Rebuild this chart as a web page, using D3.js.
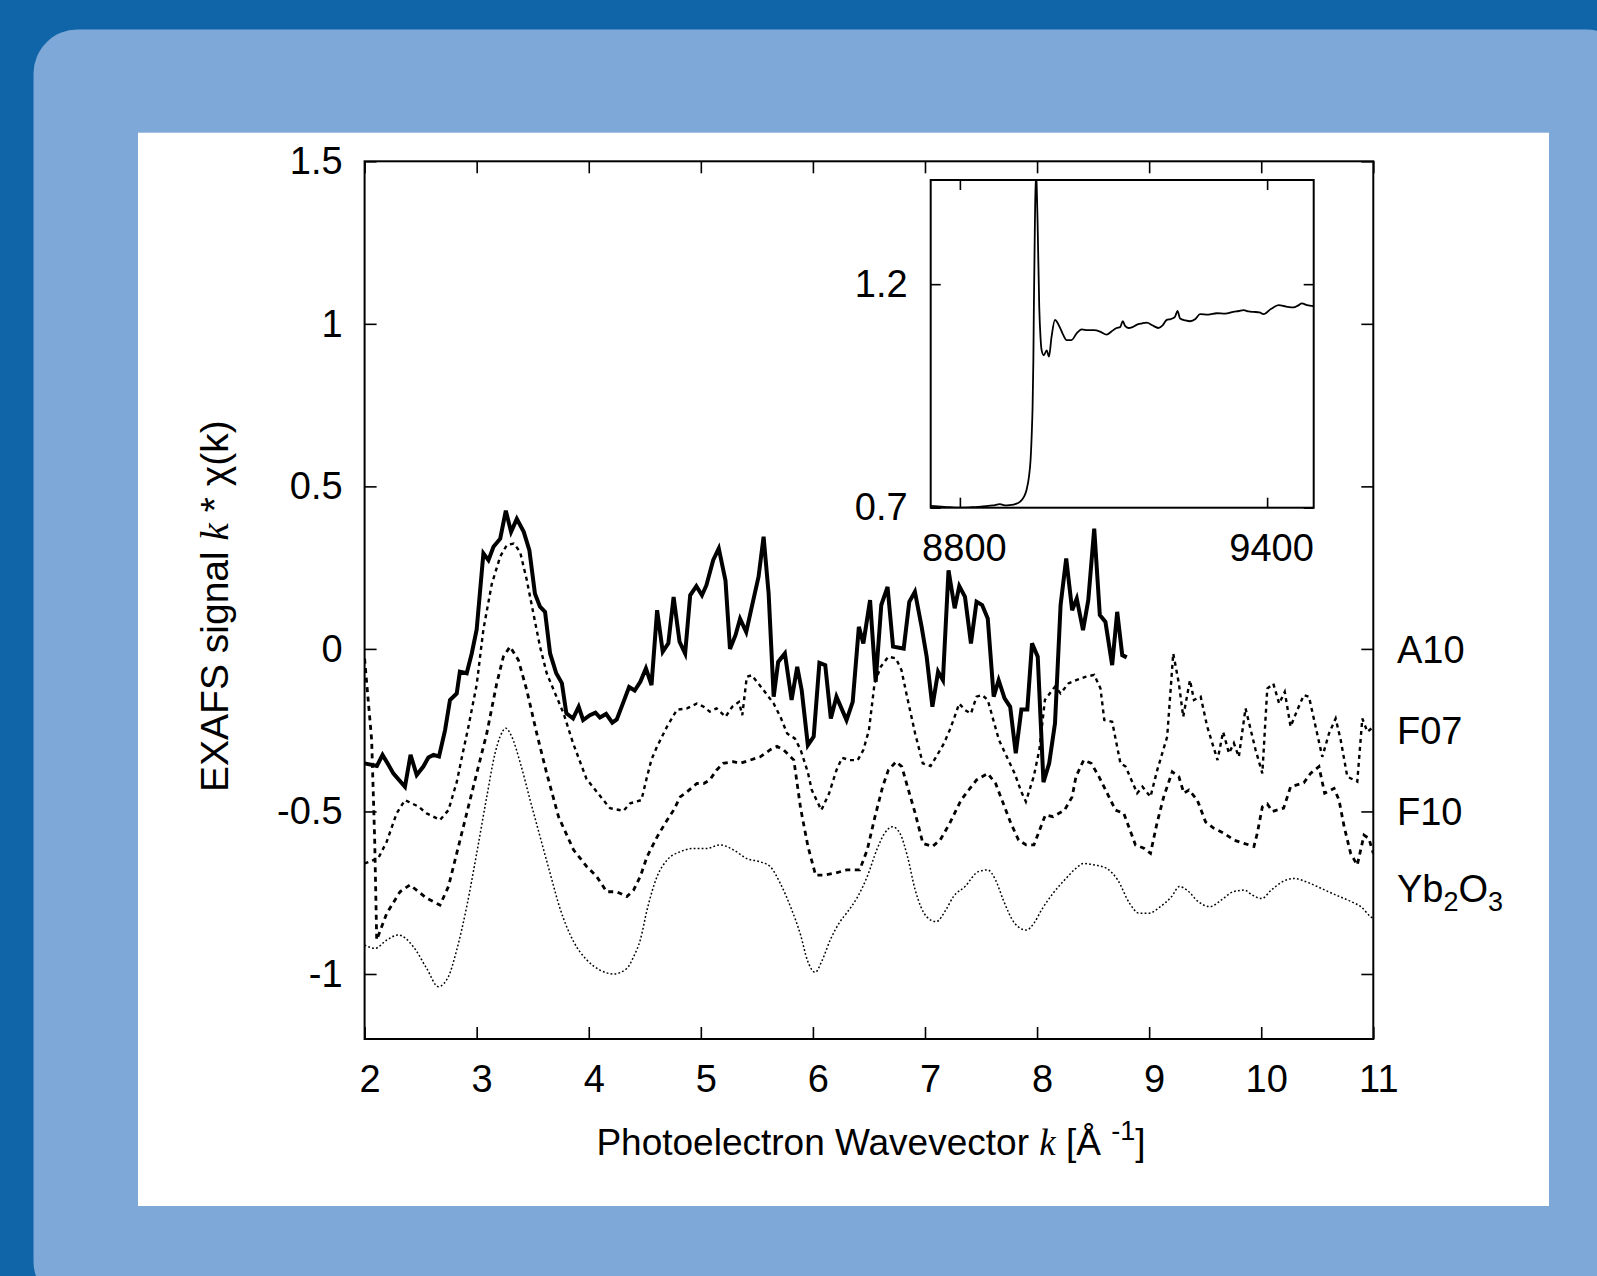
<!DOCTYPE html>
<meta charset="utf-8">
<style>
body { margin: 0; background: #1064a8; }
svg { display: block; }
text { font-family: "Liberation Sans", Arial, Helvetica, sans-serif; fill: #000; }
.axis path { display: none; }
.axis line { stroke: #000; stroke-width: 1.6; }
.axis text { font-size: 38px; font-family: "Liberation Sans", Arial, Helvetica, sans-serif; }
.series { fill: none; stroke: #000; }
</style>
<body>
<div id="chart"></div>
<script src="https://cdnjs.cloudflare.com/ajax/libs/d3/7.8.5/d3.min.js"></script>
<script>
// tick values
var kTicks = [2, 3, 4, 5, 6, 7, 8, 9, 10, 11];
var chiTicks = [-1, -0.5, 0, 0.5, 1, 1.5];
var eTicks = [8800, 9400];
var muTicks = [0.7, 1.2];

// series names as printed on the right
var seriesNames = ["A10", "F07", "F10", "Yb2O3"];

// k (1/A), k*chi(k)
var a10 = [[2.00,-0.352],[2.11,-0.36],[2.16,-0.326],[2.21,-0.355],[2.256,-0.383],[2.36,-0.424],[2.41,-0.326],[2.465,-0.388],[2.524,-0.362],[2.569,-0.334],[2.614,-0.326],[2.664,-0.331],[2.718,-0.25],[2.762,-0.157],[2.822,-0.137],[2.85,-0.07],[2.911,-0.075],[2.956,-0.014],[3.00,0.06],[3.06,0.294],[3.105,0.273],[3.15,0.314],[3.21,0.339],[3.26,0.425],[3.307,0.36],[3.358,0.40],[3.42,0.36],[3.47,0.304],[3.52,0.17],[3.565,0.13],[3.61,0.114],[3.655,-0.014],[3.71,-0.075],[3.76,-0.105],[3.80,-0.198],[3.86,-0.214],[3.91,-0.178],[3.95,-0.219],[4.01,-0.204],[4.06,-0.196],[4.10,-0.211],[4.155,-0.20],[4.21,-0.227],[4.25,-0.217],[4.31,-0.163],[4.36,-0.117],[4.41,-0.128],[4.46,-0.101],[4.51,-0.06],[4.56,-0.111],[4.61,0.119],[4.66,-0.009],[4.71,0.017],[4.757,0.16],[4.81,0.022],[4.86,-0.014],[4.905,0.165],[4.96,0.193],[5.01,0.165],[5.05,0.196],[5.11,0.273],[5.16,0.309],[5.22,0.21],[5.26,0.0],[5.31,0.043],[5.35,0.093],[5.405,0.052],[5.455,0.13],[5.515,0.222],[5.56,0.345],[5.605,0.17],[5.65,-0.147],[5.69,-0.04],[5.75,-0.014],[5.81,-0.157],[5.86,-0.055],[5.90,-0.127],[5.955,-0.296],[6.007,-0.27],[6.058,-0.043],[6.11,-0.05],[6.16,-0.214],[6.21,-0.147],[6.30,-0.219],[6.355,-0.163],[6.41,0.068],[6.45,0.017],[6.51,0.15],[6.56,-0.101],[6.61,0.135],[6.666,0.191],[6.715,0.007],[6.81,0.001],[6.86,0.145],[6.91,0.176],[6.97,0.068],[7.015,-0.024],[7.066,-0.178],[7.117,-0.07],[7.16,-0.096],[7.21,0.242],[7.265,0.125],[7.306,0.193],[7.357,0.16],[7.41,0.017],[7.46,0.145],[7.51,0.135],[7.56,0.094],[7.613,-0.147],[7.657,-0.096],[7.71,-0.152],[7.76,-0.178],[7.81,-0.321],[7.86,-0.186],[7.913,-0.186],[7.955,0.017],[8.006,-0.024],[8.057,-0.41],[8.108,-0.352],[8.16,-0.229],[8.21,0.135],[8.26,0.278],[8.313,0.119],[8.354,0.155],[8.41,0.058],[8.457,0.15],[8.51,0.37],[8.56,0.104],[8.61,0.083],[8.67,-0.05],[8.715,0.114],[8.76,-0.019],[8.80,-0.026]];

var f07 = [[2.00,-0.66],[2.122,-0.644],[2.197,-0.593],[2.286,-0.506],[2.36,-0.465],[2.48,-0.485],[2.554,-0.506],[2.673,-0.526],[2.748,-0.496],[2.822,-0.41],[2.87,-0.33],[2.926,-0.24],[3.0,-0.11],[3.06,0.06],[3.135,0.2],[3.21,0.284],[3.27,0.32],[3.33,0.324],[3.387,0.299],[3.447,0.212],[3.506,0.109],[3.565,0.007],[3.625,-0.075],[3.70,-0.137],[3.775,-0.198],[3.86,-0.29],[3.98,-0.40],[4.13,-0.465],[4.19,-0.49],[4.31,-0.498],[4.37,-0.475],[4.47,-0.465],[4.52,-0.393],[4.56,-0.34],[4.61,-0.30],[4.70,-0.238],[4.787,-0.187],[4.876,-0.183],[4.965,-0.168],[5.025,-0.178],[5.08,-0.193],[5.14,-0.183],[5.22,-0.209],[5.28,-0.178],[5.34,-0.163],[5.37,-0.204],[5.41,-0.086],[5.455,-0.081],[5.56,-0.127],[5.65,-0.168],[5.71,-0.209],[5.77,-0.26],[5.84,-0.276],[5.89,-0.31],[5.955,-0.38],[5.99,-0.434],[6.075,-0.496],[6.144,-0.445],[6.21,-0.373],[6.26,-0.335],[6.33,-0.342],[6.40,-0.342],[6.45,-0.311],[6.50,-0.25],[6.55,-0.106],[6.605,-0.055],[6.673,-0.024],[6.74,-0.029],[6.79,-0.065],[6.84,-0.147],[6.912,-0.26],[6.98,-0.352],[7.05,-0.36],[7.10,-0.332],[7.17,-0.29],[7.22,-0.25],[7.254,-0.219],[7.305,-0.168],[7.357,-0.188],[7.41,-0.199],[7.46,-0.147],[7.51,-0.142],[7.56,-0.157],[7.61,-0.219],[7.66,-0.28],[7.73,-0.332],[7.80,-0.383],[7.86,-0.44],[7.90,-0.47],[7.97,-0.393],[8.02,-0.311],[8.07,-0.157],[8.16,-0.116],[8.21,-0.137],[8.28,-0.106],[8.35,-0.096],[8.43,-0.086],[8.51,-0.08],[8.566,-0.122],[8.60,-0.219],[8.67,-0.224],[8.744,-0.352],[8.79,-0.362],[8.893,-0.444],[8.94,-0.424],[9.012,-0.455],[9.072,-0.373],[9.161,-0.27],[9.215,-0.014],[9.265,-0.106],[9.304,-0.209],[9.364,-0.096],[9.40,-0.157],[9.46,-0.147],[9.518,-0.239],[9.61,-0.342],[9.66,-0.255],[9.712,-0.321],[9.756,-0.29],[9.80,-0.332],[9.86,-0.183],[9.95,-0.311],[10.01,-0.383],[10.054,-0.122],[10.108,-0.107],[10.16,-0.168],[10.21,-0.132],[10.262,-0.239],[10.322,-0.188],[10.38,-0.142],[10.426,-0.147],[10.485,-0.239],[10.545,-0.332],[10.605,-0.26],[10.664,-0.214],[10.709,-0.28],[10.768,-0.393],[10.857,-0.408],[10.902,-0.214],[10.947,-0.255],[11.0,-0.24]];

var f10 = [[2.00,-0.03],[2.063,-0.28],[2.09,-0.588],[2.108,-0.895],[2.197,-0.814],[2.316,-0.747],[2.405,-0.726],[2.554,-0.767],[2.673,-0.788],[2.748,-0.731],[2.822,-0.629],[2.911,-0.506],[3.0,-0.383],[3.09,-0.26],[3.179,-0.106],[3.238,-0.024],[3.298,0.007],[3.372,-0.034],[3.447,-0.127],[3.536,-0.26],[3.625,-0.383],[3.73,-0.516],[3.864,-0.618],[3.983,-0.67],[4.07,-0.70],[4.16,-0.747],[4.25,-0.747],[4.34,-0.762],[4.40,-0.742],[4.46,-0.70],[4.52,-0.639],[4.61,-0.578],[4.70,-0.526],[4.757,-0.496],[4.816,-0.455],[4.876,-0.44],[4.965,-0.414],[5.025,-0.414],[5.08,-0.403],[5.14,-0.373],[5.20,-0.352],[5.29,-0.347],[5.35,-0.352],[5.44,-0.342],[5.53,-0.332],[5.62,-0.31],[5.68,-0.30],[5.74,-0.311],[5.83,-0.342],[5.89,-0.49],[5.956,-0.608],[6.024,-0.696],[6.093,-0.696],[6.195,-0.69],[6.30,-0.68],[6.417,-0.68],[6.485,-0.618],[6.554,-0.516],[6.622,-0.424],[6.673,-0.373],[6.742,-0.347],[6.793,-0.362],[6.844,-0.424],[6.913,-0.506],[6.981,-0.598],[7.066,-0.608],[7.135,-0.588],[7.22,-0.537],[7.322,-0.465],[7.39,-0.434],[7.46,-0.403],[7.56,-0.383],[7.63,-0.414],[7.698,-0.475],[7.767,-0.537],[7.835,-0.588],[7.903,-0.603],[7.972,-0.603],[8.023,-0.557],[8.074,-0.511],[8.142,-0.516],[8.245,-0.496],[8.313,-0.455],[8.347,-0.393],[8.416,-0.342],[8.484,-0.352],[8.552,-0.393],[8.62,-0.44],[8.70,-0.496],[8.774,-0.506],[8.878,-0.603],[8.953,-0.613],[9.012,-0.629],[9.07,-0.536],[9.13,-0.455],[9.206,-0.378],[9.265,-0.393],[9.31,-0.444],[9.355,-0.434],[9.43,-0.465],[9.503,-0.532],[9.578,-0.552],[9.667,-0.567],[9.756,-0.588],[9.845,-0.598],[9.935,-0.608],[9.965,-0.567],[10.01,-0.486],[10.054,-0.477],[10.10,-0.50],[10.2,-0.49],[10.262,-0.424],[10.38,-0.412],[10.44,-0.383],[10.515,-0.362],[10.566,-0.444],[10.65,-0.429],[10.694,-0.465],[10.74,-0.547],[10.798,-0.629],[10.857,-0.665],[10.917,-0.573],[10.96,-0.583],[11.0,-0.629]];

var yb2o3 = [[2.0,-0.911],[2.093,-0.921],[2.2,-0.895],[2.301,-0.88],[2.435,-0.916],[2.554,-0.983],[2.658,-1.039],[2.748,-1.008],[2.822,-0.926],[2.911,-0.793],[3.0,-0.629],[3.09,-0.455],[3.164,-0.321],[3.209,-0.27],[3.26,-0.244],[3.313,-0.27],[3.39,-0.352],[3.477,-0.465],[3.566,-0.578],[3.655,-0.69],[3.745,-0.8],[3.864,-0.9],[3.983,-0.957],[4.10,-0.988],[4.22,-1.0],[4.34,-0.983],[4.40,-0.947],[4.46,-0.895],[4.52,-0.803],[4.61,-0.70],[4.70,-0.649],[4.816,-0.624],[4.935,-0.614],[5.05,-0.614],[5.17,-0.603],[5.29,-0.618],[5.41,-0.645],[5.53,-0.655],[5.62,-0.67],[5.71,-0.722],[5.80,-0.793],[5.89,-0.88],[5.95,-0.957],[6.02,-0.995],[6.08,-0.96],[6.155,-0.895],[6.24,-0.84],[6.30,-0.813],[6.40,-0.762],[6.485,-0.70],[6.57,-0.618],[6.64,-0.567],[6.71,-0.547],[6.776,-0.567],[6.844,-0.639],[6.913,-0.742],[7.015,-0.824],[7.10,-0.839],[7.186,-0.803],[7.254,-0.762],[7.357,-0.731],[7.476,-0.685],[7.56,-0.68],[7.63,-0.711],[7.698,-0.772],[7.80,-0.844],[7.903,-0.865],[7.972,-0.844],[8.04,-0.803],[8.142,-0.752],[8.245,-0.711],[8.347,-0.675],[8.416,-0.66],[8.518,-0.665],[8.62,-0.675],[8.72,-0.711],[8.826,-0.783],[8.91,-0.813],[8.996,-0.813],[9.10,-0.793],[9.20,-0.762],[9.27,-0.731],[9.338,-0.742],[9.44,-0.778],[9.543,-0.793],[9.645,-0.772],[9.75,-0.747],[9.85,-0.742],[9.92,-0.757],[10.004,-0.768],[10.09,-0.742],[10.19,-0.716],[10.295,-0.706],[10.397,-0.716],[10.50,-0.731],[10.60,-0.747],[10.70,-0.762],[10.807,-0.778],[10.89,-0.793],[10.978,-0.824],[11.0,-0.829]];

// inset: photon energy (eV), normalised absorption
var xanes = [[8743,0.704],[8770,0.702],[8800,0.70],[8822,0.701],[8845,0.703],[8865,0.705],[8878,0.708],[8890,0.705],[8898,0.706],[8908,0.708],[8917,0.713],[8925,0.724],[8930,0.739],[8935,0.77],[8938,0.806],[8940.5,0.87],[8942,0.926],[8943.5,1.03],[8944.5,1.149],[8946.5,1.336],[8948.5,1.45],[8950,1.42],[8951.8,1.336],[8955,1.149],[8957.5,1.08],[8959.7,1.052],[8964,1.041],[8969.6,1.052],[8974,1.038],[8979,1.082],[8985.7,1.12],[8990,1.115],[8995.4,1.103],[9002,1.086],[9008.5,1.075],[9018,1.075],[9028,1.09],[9038,1.099],[9050,1.097],[9062,1.097],[9073.6,1.094],[9086.6,1.087],[9096,1.094],[9106,1.102],[9113,1.104],[9118,1.117],[9123,1.106],[9129,1.102],[9137,1.104],[9145,1.109],[9155,1.112],[9165,1.114],[9176,1.108],[9187.6,1.102],[9196,1.108],[9204,1.12],[9212,1.122],[9220,1.127],[9225,1.14],[9230,1.123],[9240,1.119],[9249.6,1.117],[9260,1.122],[9269,1.133],[9285,1.132],[9301.7,1.135],[9318,1.134],[9334,1.138],[9345,1.14],[9354,1.142],[9364,1.139],[9373.6,1.138],[9385,1.137],[9393,1.133],[9408,1.145],[9422.5,1.153],[9437,1.15],[9451.8,1.148],[9460,1.152],[9468,1.157],[9478,1.153],[9490.7,1.151]];

var W = 1597, H = 1276;
var svg = d3.select("#chart").append("svg").attr("width", W).attr("height", H);

// slide background
svg.append("rect").attr("width", W).attr("height", H).attr("fill", "#1064a8");
svg.append("rect").attr("x", 33.5).attr("y", 29.5).attr("width", W).attr("height", H)
    .attr("rx", 44).attr("fill", "#7ea8d8");
svg.append("rect").attr("x", 138).attr("y", 132.7).attr("width", 1411).attr("height", 1073.3)
    .attr("fill", "#fff");

// main plot
var L = 364.6, R = 1373.3, T = 161.3, B = 1039;
var x = d3.scaleLinear().domain([2, 11]).range([L, R]);
var y = d3.scaleLinear().domain([-1.2, 1.5]).range([B, T]);

svg.append("clipPath").attr("id", "clip").append("rect")
    .attr("x", L).attr("y", T).attr("width", R - L).attr("height", B - T);

var line = d3.line().x(function(d) { return x(d[0]); }).y(function(d) { return y(d[1]); });
var g = svg.append("g").attr("clip-path", "url(#clip)");

g.append("path").datum(yb2o3).attr("class", "series")
    .attr("d", line.curve(d3.curveMonotoneX))
    .attr("stroke-width", 1.5).attr("stroke-dasharray", "1.8,2.2");
line.curve(d3.curveLinear);
g.append("path").datum(f10).attr("class", "series").attr("d", line)
    .attr("stroke-width", 2.8).attr("stroke-dasharray", "5,4.5");
g.append("path").datum(f07).attr("class", "series").attr("d", line)
    .attr("stroke-width", 2.4).attr("stroke-dasharray", "4,4");
g.append("path").datum(a10).attr("class", "series").attr("d", line)
    .attr("stroke-width", 4).attr("stroke-linejoin", "miter");

// axes, ticks pointing in on all four sides
var fmt = function(d) { return String(d); };
svg.append("g").attr("class", "axis").attr("transform", "translate(0," + B + ")")
    .call(d3.axisBottom(x).tickValues(kTicks).tickSize(-12).tickPadding(26).tickFormat(fmt))
    .selectAll("text").attr("dx", 5);
svg.append("g").attr("class", "axis").attr("transform", "translate(0," + T + ")")
    .call(d3.axisTop(x).tickValues(kTicks).tickSize(-12).tickFormat(""));
svg.append("g").attr("class", "axis").attr("transform", "translate(" + L + ",0)")
    .call(d3.axisLeft(y).tickValues(chiTicks).tickSize(-12).tickPadding(22).tickFormat(fmt));
svg.append("g").attr("class", "axis").attr("transform", "translate(" + R + ",0)")
    .call(d3.axisRight(y).tickValues(chiTicks).tickSize(-12).tickFormat(""));
svg.append("rect").attr("x", L).attr("y", T).attr("width", R - L).attr("height", B - T)
    .attr("fill", "none").attr("stroke", "#000").attr("stroke-width", 2);

// axis titles
var xt = svg.append("text").attr("x", (L + R) / 2 + 2).attr("y", 1155)
    .attr("text-anchor", "middle").attr("font-size", 37);
xt.append("tspan").text("Photoelectron Wavevector ");
xt.append("tspan").attr("font-family", "Liberation Serif, Times New Roman, serif")
    .attr("font-style", "italic").text("k");
xt.append("tspan").text(" [Å ");
xt.append("tspan").attr("font-size", 27).attr("dy", -15).text("-1");
xt.append("tspan").attr("dy", 15).text("]");

var yt = svg.append("text").attr("transform", "translate(228," + ((T + B) / 2 + 6) + ") rotate(-90)")
    .attr("text-anchor", "middle").attr("font-size", 39);
yt.append("tspan").text("EXAFS signal ");
yt.append("tspan").attr("font-family", "Liberation Serif, Times New Roman, serif")
    .attr("font-style", "italic").text("k");
yt.append("tspan").text(" * χ(k)");

// series labels at the right
var labelBase = [663, 744, 825, 902];
seriesNames.forEach(function(name, i) {
    var t = svg.append("text").attr("x", 1397).attr("y", labelBase[i]).attr("font-size", 38);
    if (name === "Yb2O3") {
        t.append("tspan").text("Yb");
        t.append("tspan").attr("font-size", 27).attr("dy", 9).text("2");
        t.append("tspan").attr("dy", -9).text("O");
        t.append("tspan").attr("font-size", 27).attr("dy", 9).text("3");
    } else {
        t.text(name);
    }
});

// inset: XANES edge
var iL = 930.7, iR = 1313.7, iT = 180, iB = 507.7;
var ix = d3.scaleLinear().domain([8743, 9491]).range([iL, iR]);
var iy = d3.scaleLinear().domain([0.7, 1.433]).range([iB, iT]);
svg.append("rect").attr("x", iL).attr("y", iT).attr("width", iR - iL).attr("height", iB - iT)
    .attr("fill", "#fff");
svg.append("clipPath").attr("id", "iclip").append("rect")
    .attr("x", iL).attr("y", iT).attr("width", iR - iL).attr("height", iB - iT);
svg.append("g").attr("clip-path", "url(#iclip)").append("path").datum(xanes)
    .attr("class", "series").attr("stroke-width", 1.8)
    .attr("d", d3.line().curve(d3.curveMonotoneX)
        .x(function(d) { return ix(d[0]); }).y(function(d) { return iy(d[1]); }));

svg.append("g").attr("class", "axis").attr("transform", "translate(0," + iB + ")")
    .call(d3.axisBottom(ix).tickValues(eTicks).tickSize(-10).tickPadding(26).tickFormat(fmt))
    .selectAll("text").attr("dx", 4);
svg.append("g").attr("class", "axis").attr("transform", "translate(0," + iT + ")")
    .call(d3.axisTop(ix).tickValues(eTicks).tickSize(-10).tickFormat(""));
svg.append("g").attr("class", "axis").attr("transform", "translate(" + iL + ",0)")
    .call(d3.axisLeft(iy).tickValues(muTicks).tickSize(-10).tickPadding(23).tickFormat(fmt));
svg.append("g").attr("class", "axis").attr("transform", "translate(" + iR + ",0)")
    .call(d3.axisRight(iy).tickValues(muTicks).tickSize(-10).tickFormat(""));
svg.append("rect").attr("x", iL).attr("y", iT).attr("width", iR - iL).attr("height", iB - iT)
    .attr("fill", "none").attr("stroke", "#000").attr("stroke-width", 2);
</script>
</body>
</html>
